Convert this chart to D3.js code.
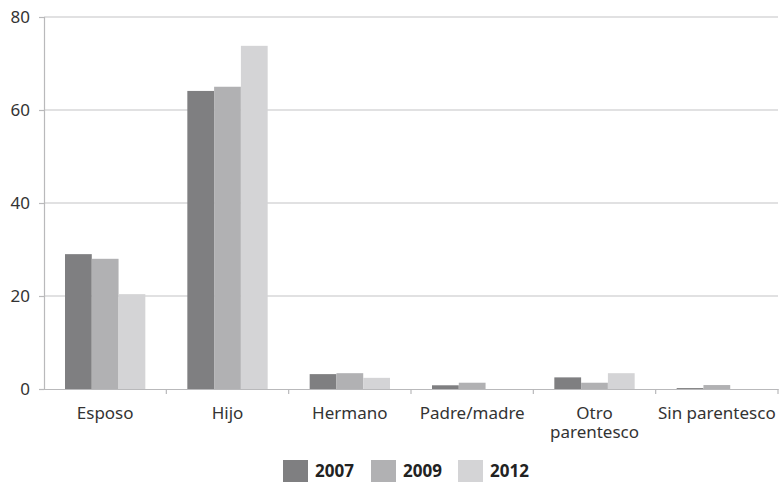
<!DOCTYPE html>
<html>
<head>
<meta charset="utf-8">
<script src="https://cdn.jsdelivr.net/npm/d3@7"></script>
<style>
  body { margin: 0; background: #fff; }
  svg { display: block; font-family: "Noto Sans", Lato, sans-serif; }
</style>
</head>
<body>
<svg id="chart" width="779" height="482"></svg>
<script>
// data
var categories = ["Esposo", "Hijo", "Hermano", "Padre/madre", "Otro parentesco", "Sin parentesco"];
var years = ["2007", "2009", "2012"];
var v2007 = [29.0, 64.1, 3.2, 0.8, 2.5, 0.2];
var v2009 = [28.0, 65.0, 3.4, 1.35, 1.35, 0.85];
var v2012 = [20.4, 73.8, 2.4, 0, 3.4, 0];
var yTicks = [0, 20, 40, 60, 80];

var colors = ["#7f7f81", "#b1b1b3", "#d4d4d6"];
var series = [v2007, v2009, v2012];

var margin = {top: 17, right: 1, bottom: 93, left: 44},
    width = 779 - margin.left - margin.right,
    height = 482 - margin.top - margin.bottom;

var svg = d3.select("#chart");
var g = svg.append("g").attr("transform", "translate(" + margin.left + "," + margin.top + ")");

// scales
var x0 = d3.scaleBand().domain(categories).range([0, width]).paddingInner(0).paddingOuter(0);
var x1 = d3.scaleBand().domain(years).range([21, x0.bandwidth() - 21]).padding(0);
var y = d3.scaleLinear().domain([0, 80]).range([height, 0]);
var color = d3.scaleOrdinal().domain(years).range(colors);

// grid lines
g.append("g").attr("class", "grid")
  .selectAll("line")
  .data(yTicks.filter(function(d) { return d > 0; }))
  .enter().append("line")
    .attr("x1", 0).attr("x2", width)
    .attr("y1", function(d) { return y(d); })
    .attr("y2", function(d) { return y(d); })
    .attr("stroke", "#c4c4c6").attr("stroke-width", 1.2);

// bars
var rows = categories.map(function(c, i) {
  return {cat: c, vals: years.map(function(yr, j) { return {year: yr, value: series[j][i]}; })};
});

var groups = g.selectAll(".grp").data(rows).enter().append("g")
  .attr("class", "grp")
  .attr("transform", function(d) { return "translate(" + x0(d.cat) + ",0)"; });

groups.selectAll("rect").data(function(d) { return d.vals; }).enter().append("rect")
  .attr("x", function(d) { return x1(d.year); })
  .attr("y", function(d) { return y(d.value); })
  .attr("width", x1.bandwidth())
  .attr("height", function(d) { return height - y(d.value); })
  .attr("fill", function(d) { return color(d.year); });

// y axis
var yAxis = g.append("g")
  .call(d3.axisLeft(y).tickValues(yTicks).tickSize(5).tickPadding(9));
yAxis.select(".domain").attr("stroke", "#b9b9bb").attr("stroke-width", 1.2);
yAxis.selectAll(".tick line").attr("stroke", "#b9b9bb").attr("stroke-width", 1.2);
yAxis.selectAll("text").attr("fill", "#333").style("font-size", "17px")
  .style("font-family", "'Noto Sans', Lato, sans-serif");

// x axis
var xAxis = g.append("g")
  .attr("transform", "translate(0," + height + ")")
  .call(d3.axisBottom(x0).tickSize(0).tickFormat(""));
xAxis.select(".domain").attr("stroke", "#b9b9bb").attr("stroke-width", 1.2);

// category boundary ticks
g.append("g").selectAll("line")
  .data(categories.map(function(c) { return x0(c) + x0.bandwidth(); }))
  .enter().append("line")
    .attr("x1", function(d) { return d; }).attr("x2", function(d) { return d; })
    .attr("y1", height).attr("y2", height + 5)
    .attr("stroke", "#b9b9bb").attr("stroke-width", 1.2);

// category labels, one text per line (Otro / parentesco wraps)
var labelLines = {"Otro parentesco": ["Otro", "parentesco"]};
var lineData = [];
categories.forEach(function(c) {
  (labelLines[c] || [c]).forEach(function(l, i) { lineData.push({cat: c, text: l, line: i}); });
});
g.append("g").selectAll("text").data(lineData).enter().append("text")
  .attr("x", function(d) { return x0(d.cat) + x0.bandwidth() / 2; })
  .attr("y", function(d) { return height + 30 + d.line * 19; })
  .attr("text-anchor", "middle")
  .attr("fill", "#333")
  .style("font-size", "17px")
  .text(function(d) { return d.text; });

// legend
var legendX = [283, 371, 458];
var legend = svg.append("g").selectAll("g").data(years).enter().append("g")
  .attr("transform", function(d, i) { return "translate(" + legendX[i] + ",460)"; });
legend.append("rect").attr("width", 25).attr("height", 22)
  .attr("fill", function(d) { return color(d); });
legend.append("text").attr("x", 32).attr("y", 17)
  .attr("fill", "#222").style("font-size", "17px").style("font-weight", "bold")
  .text(function(d) { return d; });
</script>
</body>
</html>
